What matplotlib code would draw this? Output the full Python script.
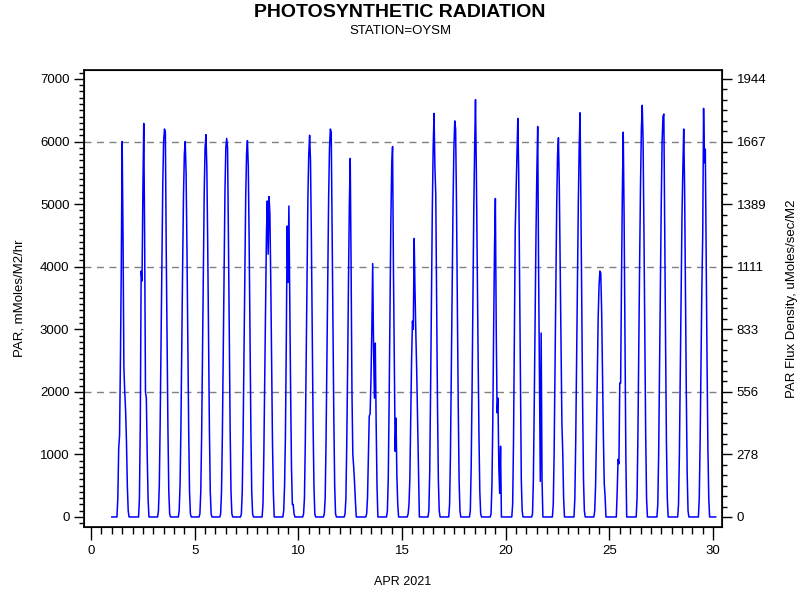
import numpy as np
import matplotlib.pyplot as plt
from matplotlib.ticker import MultipleLocator, FixedLocator

plt.rcParams['font.family'] = ['Liberation Sans', 'DejaVu Sans']

# PAR (mMoles/M2/hr) for daylight hours 6..20, one list per April day
day_hours = list(range(6, 21))
d01 = [0, 300, 1100, 1300, 2500, 4000, 6000, 4500, 2400, 2000, 1700, 1200, 500, 100, 0]
d02 = [0, 0, 300, 1500, 3930, 3770, 5200, 6290, 4500, 2000, 1900, 1000, 300, 0, 0]
d03 = [100, 500, 1500, 2800, 4200, 5300, 6000, 6200, 6150, 4300, 2800, 1400, 400, 50, 0]
d04 = [100, 500, 1400, 2700, 4000, 5130, 5800, 6000, 5500, 4300, 2800, 1400, 400, 50, 0]
d05 = [50, 400, 1300, 2600, 4000, 5200, 5900, 6110, 5600, 4400, 2900, 1400, 400, 50, 0]
d06 = [50, 400, 1300, 2600, 4000, 5200, 5900, 6050, 5900, 4500, 2900, 1400, 400, 50, 0]
d07 = [50, 400, 1300, 2600, 4000, 5100, 5800, 6015, 5600, 4400, 2800, 1400, 400, 50, 0]
d08 = [0, 200, 1000, 2200, 3500, 4500, 5050, 4200, 5120, 4850, 3800, 2500, 1200, 400, 0]
d09 = [0, 100, 500, 1300, 2800, 4650, 3750, 4970, 3500, 2000, 800, 200, 200, 50, 0]
d10 = [50, 300, 1200, 2500, 3900, 5100, 5800, 6100, 5700, 4500, 3000, 1500, 500, 50, 0]
d11 = [50, 300, 1200, 2500, 3900, 5100, 5900, 6200, 6150, 4700, 3100, 1600, 500, 50, 0]
d12 = [50, 300, 1200, 2400, 3800, 5000, 5730, 4000, 2000, 1000, 800, 550, 250, 0, 0]
d13 = [0, 50, 300, 1000, 1610, 1650, 2200, 3000, 4050, 2700, 1900, 2780, 1500, 500, 0]
d14 = [0, 100, 600, 1800, 3300, 4700, 5600, 5920, 4000, 2500, 1050, 1580, 650, 200, 0]
d15 = [0, 50, 200, 600, 1500, 2500, 3130, 3000, 4450, 3600, 2900, 2300, 1500, 650, 0]
d16 = [0, 100, 700, 2000, 3500, 4900, 5900, 6450, 5600, 5160, 3500, 1800, 600, 100, 0]
d17 = [0, 200, 1000, 2300, 3700, 5000, 5900, 6330, 6200, 5000, 3400, 1800, 600, 100, 0]
d18 = [0, 100, 800, 2000, 3500, 4900, 5900, 6670, 5500, 4000, 2600, 1300, 400, 50, 0]
d19 = [0, 50, 500, 1500, 3000, 4300, 5090, 3000, 1665, 1900, 800, 380, 1130, 0, 0]
d20 = [0, 0, 200, 1200, 3000, 4600, 5240, 5800, 6370, 5500, 3800, 2000, 600, 100, 0]
d21 = [0, 50, 600, 1800, 3200, 4500, 5500, 6240, 4000, 2200, 570, 2940, 600, 0, 0]
d22 = [0, 200, 1000, 2300, 3700, 5000, 5800, 6060, 5300, 4000, 2700, 1500, 1020, 300, 0]
d23 = [0, 0, 300, 1200, 2500, 3800, 5000, 5900, 6460, 5000, 3300, 1800, 600, 100, 0]
d24 = [0, 100, 500, 1300, 2300, 3200, 3700, 3930, 3900, 3300, 2300, 1300, 540, 330, 0]
d25 = [0, 0, 0, 400, 920, 850, 2140, 2140, 3800, 5200, 6150, 4800, 2800, 1000, 0]
d26 = [0, 0, 300, 1300, 2700, 4100, 5300, 6200, 6580, 6000, 4500, 2800, 1300, 300, 0]
d27 = [0, 0, 200, 1000, 2300, 3700, 5000, 6000, 6400, 6440, 4600, 2800, 1200, 300, 0]
d28 = [0, 0, 200, 1000, 2300, 3700, 4800, 5560, 6200, 5300, 3600, 2000, 700, 100, 0]
d29 = [0, 0, 300, 1200, 2500, 3640, 4500, 6530, 5660, 5880, 4200, 2500, 1100, 300, 0]
days = [d01, d02, d03, d04, d05, d06, d07, d08, d09, d10, d11, d12, d13, d14, d15,
        d16, d17, d18, d19, d20, d21, d22, d23, d24, d25, d26, d27, d28, d29]

left_ticks = [0, 1000, 2000, 3000, 4000, 5000, 6000, 7000]
right_labels = ['0', '278', '556', '833', '1111', '1389', '1667', '1944']

# build hourly series (night hours are zero), last record day 30 03:00
t = []
par = []
for i, vals in enumerate(days):
    day = i + 1
    for h in range(24):
        t.append(day + h / 24)
        par.append(vals[day_hours.index(h)] if h in day_hours else 0)
for h in range(4):
    t.append(30 + h / 24)
    par.append(0)

fig = plt.figure(figsize=(8, 6), dpi=100)
ax = fig.add_axes([0.105, 0.1217, 0.7975, 0.7617])

for g in [2000, 4000, 6000]:
    ax.axhline(g, color='#808080', lw=1, ls=(0, (5, 4)), zorder=1)
ax.plot(t, par, color='#0000ff', lw=1.1, zorder=2)

ax.set_xlim(-0.34, 30.43)
ax.set_ylim(-160, 7144)
ax.xaxis.set_major_locator(MultipleLocator(5))
ax.xaxis.set_minor_locator(MultipleLocator(0.5))
ax.yaxis.set_major_locator(FixedLocator(left_ticks))
ax.yaxis.set_minor_locator(MultipleLocator(100))
ax.tick_params(which='major', direction='out', length=7, width=1, labelsize=9.5, colors='black')
ax.tick_params(which='minor', direction='out', length=3.5, width=1)
ax.tick_params(axis='x', which='major', length=9, pad=4)
ax.tick_params(axis='x', which='minor', length=5)
for s in ax.spines.values():
    s.set_linewidth(1.2)

ax.set_xlabel('APR 2021', fontsize=9, labelpad=14)
ax.set_ylabel('PAR, mMoles/M2/hr', fontsize=9.5, labelpad=10)

conv = 1000 / 3600
ax2 = ax.twinx()
ax2.set_ylim(-160 * conv, 7144 * conv)
ax2.yaxis.set_major_locator(FixedLocator([v * conv for v in left_ticks]))
ax2.yaxis.set_minor_locator(FixedLocator(list(np.arange(0, 7001, 1000 / 6) * conv)))
ax2.set_yticklabels(right_labels)
ax2.tick_params(which='major', direction='out', length=7, width=1, labelsize=9.5)
ax2.tick_params(which='minor', direction='out', length=3.5, width=1)
ax2.set_ylabel('PAR Flux Density, uMoles/sec/M2', fontsize=9.5, labelpad=14)

fig.text(0.5, 0.994, 'PHOTOSYNTHETIC RADIATION', ha='center', va='top',
         fontsize=14, fontweight='bold')
fig.text(0.5, 0.958, 'STATION=OYSM', ha='center', va='top', fontsize=9.5)

fig.savefig('out.png', dpi=100)
